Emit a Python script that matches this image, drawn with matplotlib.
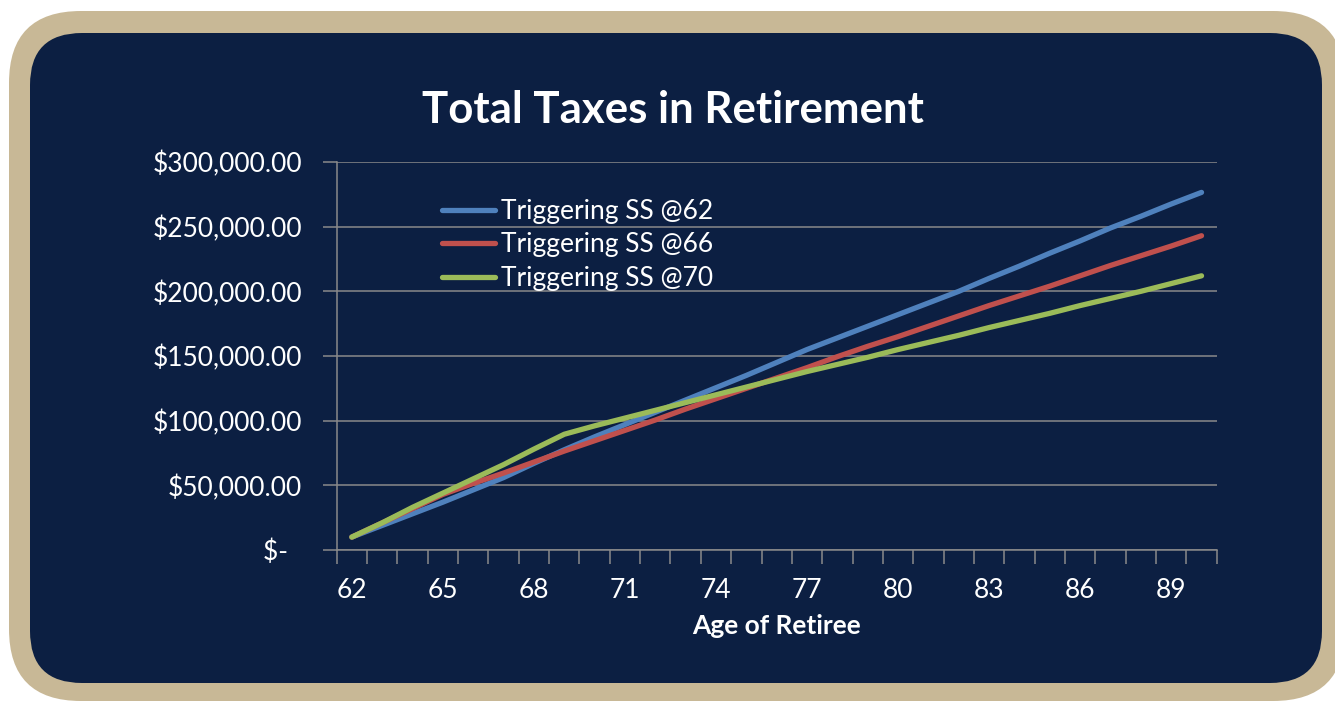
import matplotlib
matplotlib.use("Agg")
import matplotlib.pyplot as plt
from matplotlib.patches import FancyBboxPatch
from matplotlib.ticker import FixedLocator, FuncFormatter

# ---------------- data ----------------
ages = list(range(62, 91))
ss62 = [10, 19, 28, 37, 46.5, 56, 67, 77.5, 87.5, 97, 106.5, 116, 125.5, 135, 145,
        155, 164, 173, 182, 191, 200, 210, 219.5, 229.5, 239, 249, 258, 267.5, 276.5]
ss66 = [10, 21, 32, 43, 51.5, 59.5, 68, 76.5, 84.5, 92.5, 100.5, 109, 117, 125, 133,
        141, 149.5, 157.5, 165, 173, 181, 189, 196.5, 204, 212, 220, 227.5, 235, 243]
ss70 = [10, 21, 33, 44, 55, 66, 78, 89.5, 96, 102, 108, 114, 120, 126, 132,
        138, 143.5, 149, 155, 160.5, 166, 172, 177.5, 183, 189, 194.5, 200, 206, 212]
series_labels = ["Triggering SS @62", "Triggering SS @66", "Triggering SS @70"]
y_ticks = [0, 50000, 100000, 150000, 200000, 250000, 300000]
x_label_ticks = list(range(62, 90, 3))
title = "Total Taxes in Retirement"
xlabel = "Age of Retiree"

# ---------------- style ----------------
W, H = 1335, 702
NAVY = "#0c1f42"
TAN = "#c8b896"
GRID = "#8a8a8a"
COLORS = ["#4f81bd", "#c0504d", "#9bbb59"]
FONT = ["Lato", "DejaVu Sans"]
FS = 19

fig = plt.figure(figsize=(W / 100, H / 100), dpi=100)
fig.patch.set_facecolor("white")

# background frame
bg = fig.add_axes([0, 0, 1, 1], zorder=0)
bg.set_xlim(0, W)
bg.set_ylim(H, 0)
bg.axis("off")
bg.add_patch(FancyBboxPatch((9, 11), 1345 - 9, 701 - 11,
                            boxstyle="round,pad=0,rounding_size=72",
                            facecolor=TAN, edgecolor="none"))
bg.add_patch(FancyBboxPatch((30, 33), 1322 - 30, 683 - 33,
                            boxstyle="round,pad=0,rounding_size=52",
                            facecolor=NAVY, edgecolor="none"))

# main axes
x0, x1, ytop, ybot = 336.7, 1216.7, 162, 550
ax = fig.add_axes([x0 / W, 1 - ybot / H, (x1 - x0) / W, (ybot - ytop) / H], zorder=1)
ax.set_facecolor("none")

for vals, lab, c in zip([ss62, ss66, ss70], series_labels, COLORS):
    ax.plot(ages, [v * 1000 for v in vals], color=c, lw=3.8, label=lab,
            solid_capstyle="round", solid_joinstyle="round", zorder=3)

ax.set_xlim(61.5, 90.5)
ax.set_ylim(0, 300000)

ax.yaxis.set_major_locator(FixedLocator(y_ticks))
ax.yaxis.set_major_formatter(FuncFormatter(
    lambda v, p: "$-  " if v == 0 else "${:,.2f}".format(v)))
ax.grid(axis="y", color=GRID, lw=1.1, zorder=1)
ax.set_axisbelow(True)

ax.xaxis.set_major_locator(FixedLocator(x_label_ticks))
ax.xaxis.set_minor_locator(FixedLocator([a - 0.5 for a in ages] + [ages[-1] + 0.5]))
ax.tick_params(axis="x", which="major", length=0, pad=20, labelsize=FS,
               labelcolor="white")
ax.tick_params(axis="x", which="minor", length=10, width=1.1, color=GRID)
ax.tick_params(axis="y", which="major", length=10, width=1.1, color=GRID,
               pad=15, labelsize=FS, labelcolor="white")
for lab in ax.get_xticklabels() + ax.get_yticklabels():
    lab.set_family(FONT)

for s in ["top", "right"]:
    ax.spines[s].set_visible(False)
for s in ["left", "bottom"]:
    ax.spines[s].set_color(GRID)
    ax.spines[s].set_linewidth(1.1)

ax.set_xlabel(xlabel, color="white", fontsize=FS, fontweight="bold",
              family=FONT, labelpad=8)

fig.text(673 / W, 1 - 110 / H, title, color="white", fontsize=31.5,
         fontweight="bold", family=FONT, ha="center", va="center")

leg = ax.legend(loc="upper left",
                bbox_to_anchor=((442 - x0) / (x1 - x0), 1 - (199 - ytop) / (ybot - ytop)),
                frameon=False, prop={"family": FONT, "size": FS},
                handlelength=2.0, handletextpad=0.25, labelspacing=0.32,
                borderaxespad=0, borderpad=0)
for t in leg.get_texts():
    t.set_color("white")

fig.savefig("out.png", dpi=100, facecolor=fig.get_facecolor())
